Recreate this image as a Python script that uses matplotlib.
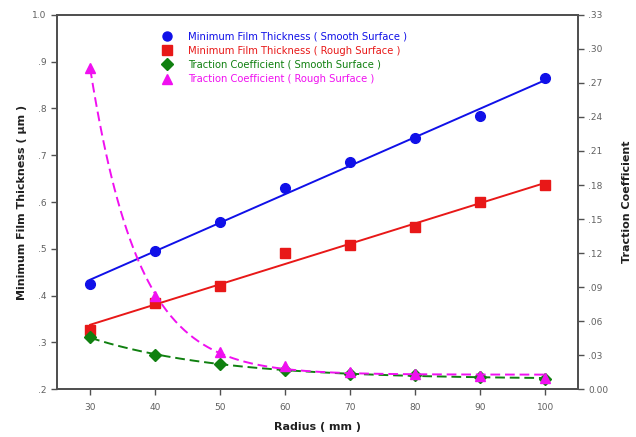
import matplotlib
matplotlib.use("Agg")
import matplotlib.pyplot as plt
from matplotlib.lines import Line2D
from matplotlib.ticker import FixedLocator, FixedFormatter
import numpy as np

# данные
radius = [30, 40, 50, 60, 70, 80, 90, 100]
film_smooth = [0.425, 0.495, 0.557, 0.630, 0.685, 0.737, 0.785, 0.865]
film_rough = [0.327, 0.385, 0.420, 0.490, 0.508, 0.547, 0.600, 0.637]
trac_smooth = [0.0455, 0.0300, 0.0225, 0.0165, 0.0135, 0.0120, 0.0107, 0.0090]
trac_rough = [0.2830, 0.0825, 0.0330, 0.0200, 0.0150, 0.0130, 0.0118, 0.0100]

left_ticks = [0.2, 0.3, 0.4, 0.5, 0.6, 0.7, 0.8, 0.9, 1.0]
left_labels = ['.2', '.3', '.4', '.5', '.6', '.7', '.8', '.9', '1.0']
right_ticks = [0.0, 0.03, 0.06, 0.09, 0.12, 0.15, 0.18, 0.21, 0.24, 0.27, 0.30, 0.33]
right_labels = ['0.00', '.03', '.06', '.09', '.12', '.15', '.18', '.21', '.24', '.27', '.30', '.33']

labels = ['Minimum Film Thickness ( Smooth Surface )',
          'Minimum Film Thickness ( Rough Surface )',
          'Traction Coefficient ( Smooth Surface )',
          'Traction Coefficient ( Rough Surface )']
colors = ['#1010e8', '#e81818', '#108010', '#f010f0']
markers = ['o', 's', 'D', '^']


def expFit(x, y):
    '''Подбор y = a*exp(-b*(x-x0)) + c перебором b'''
    x = np.asarray(x, float)
    y = np.asarray(y, float)
    best = None
    for b in np.linspace(0.005, 0.5, 2000):
        e = np.exp(-b * (x - x[0]))
        A = np.vstack([e, np.ones_like(e)]).T
        coef, res, _, _ = np.linalg.lstsq(A, y, rcond=None)
        err = np.sum((A @ coef - y) ** 2)
        if best is None or err < best[0]:
            best = (err, b, coef)
    _, b, coef = best
    return lambda t: coef[0] * np.exp(-b * (t - x[0])) + coef[1]


fig = plt.figure(figsize=(6.36, 4.37), dpi=100)
ax = fig.add_axes([0.0896, 0.1098, 0.8192, 0.8559])
ax2 = ax.twinx()

xs = np.linspace(30, 100, 300)

# линейные аппроксимации толщины плёнки
for vals, c, m in [(film_smooth, colors[0], markers[0]), (film_rough, colors[1], markers[1])]:
    k, b = np.polyfit(radius, vals, 1)
    ax.plot(xs, k * xs + b, color=c, lw=1.4)
    ax.plot(radius, vals, linestyle='none', marker=m, color=c, ms=7 if m == 'o' else 6.5)

# экспоненциальные аппроксимации коэффициента трения
for vals, c, m in [(trac_smooth, colors[2], markers[2]), (trac_rough, colors[3], markers[3])]:
    f = expFit(radius, vals)
    ax2.plot(xs, f(xs), color=c, lw=1.4, linestyle=(0, (5, 2.5)))
    ax2.plot(radius, vals, linestyle='none', marker=m, color=c, ms=6.5)

ax.set_xlim(24.9, 105)
ax.set_ylim(0.2, 1.0)
ax2.set_ylim(0.0, 0.33)

ax.set_xticks(radius)
ax.yaxis.set_major_locator(FixedLocator(left_ticks))
ax.yaxis.set_major_formatter(FixedFormatter(left_labels))
ax2.yaxis.set_major_locator(FixedLocator(right_ticks))
ax2.yaxis.set_major_formatter(FixedFormatter(right_labels))

for a in (ax, ax2):
    for s in a.spines.values():
        s.set_color('#505050')
        s.set_linewidth(1.3)
    a.tick_params(colors='#505050', labelcolor='#606060', labelsize=6.5, length=4, width=1)
ax.tick_params(axis='x', pad=6)

ax.set_xlabel('Radius ( mm )', fontsize=8, fontweight='bold', color='#202020', labelpad=7)
ax.set_ylabel('Minimum Film Thickness ( \u00b5m )', fontsize=8, fontweight='bold', color='#202020', labelpad=4)
ax2.set_ylabel('Traction Coefficient', fontsize=8, fontweight='bold', color='#202020', labelpad=10)

# легенда
handles = [Line2D([], [], linestyle='none', marker=m, color=c, ms=6.5) for m, c in zip(markers, colors)]
ax.legend(handles, labels, loc='upper left', bbox_to_anchor=(0.185, 0.98), frameon=False,
          fontsize=7.2, labelcolor=colors, handletextpad=1.6, labelspacing=0.42, handlelength=1.0)

fig.savefig('out.png', dpi=100)
